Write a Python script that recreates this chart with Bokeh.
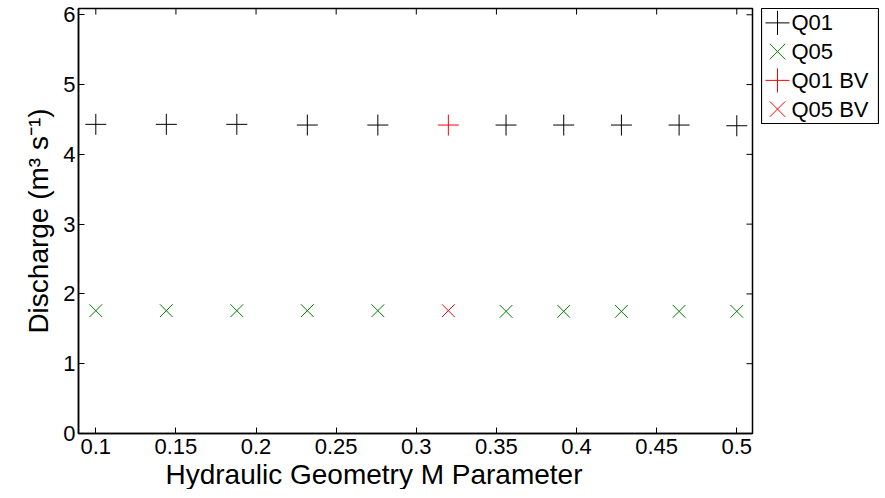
import math
from bokeh.plotting import figure
from bokeh.layouts import row
from bokeh.models import Range1d, FactorRange, FixedTicker, ColumnDataSource, Title
from bokeh.core.properties import value
from bokeh.embed import file_html
from bokeh.resources import INLINE

# Data
m_param = [0.1, 0.144, 0.188, 0.232, 0.276, 0.356, 0.392, 0.428, 0.464, 0.5]
q01 = [4.43, 4.43, 4.43, 4.42, 4.42, 4.42, 4.42, 4.42, 4.42, 4.41]
q05 = [1.76, 1.76, 1.76, 1.76, 1.76, 1.75, 1.75, 1.75, 1.75, 1.75]
m_bv = [0.32]
q01_bv = [4.42]
q05_bv = [1.76]
x_ticks = [0.1, 0.15, 0.2, 0.25, 0.3, 0.35, 0.4, 0.45, 0.5]
x_tick_labels = ["0.1", "0.15", "0.2", "0.25", "0.3", "0.35", "0.4", "0.45", "0.5"]
y_ticks = [0, 1, 2, 3, 4, 5, 6]
series_labels = ["Q01", "Q05", "Q01 BV", "Q05 BV"]

FONT = "Liberation Sans"

p = figure(frame_width=674, frame_height=425, output_backend="svg", toolbar_location=None,
           x_range=Range1d(0.0892, 0.5098), y_range=Range1d(0, 6.09),
           min_border_left=78, min_border_right=9, min_border_top=8, min_border_bottom=10)
p.grid.visible = False
p.outline_line_color = "black"
p.outline_line_width = 1.5
p.background_fill_color = "white"
p.border_fill_color = "white"

src = ColumnDataSource(dict(m=m_param, q01=q01, q05=q05))
src_bv = ColumnDataSource(dict(m=m_bv, q01=q01_bv, q05=q05_bv))

styles = [
    dict(y="q01", source=src, marker="cross", size=21, color="black"),
    dict(y="q05", source=src, marker="x", size=18, color="#008000"),
    dict(y="q01", source=src_bv, marker="cross", size=21, color="red"),
    dict(y="q05", source=src_bv, marker="x", size=18, color="red"),
]

for st in styles:
    p.scatter("m", st["y"], source=st["source"], marker=st["marker"], size=st["size"],
              line_color=st["color"], line_width=1)

xa = p.xaxis[0]
xa.ticker = FixedTicker(ticks=x_ticks)
xa.major_label_overrides = {t: l for t, l in zip(x_ticks, x_tick_labels)}
ya = p.yaxis[0]
ya.ticker = FixedTicker(ticks=y_ticks)
ya.axis_label = "Discharge (m³ s⁻¹)"

for ax in (xa, ya):
    ax.major_tick_in = 6
    ax.major_tick_out = 0
    ax.minor_tick_in = 0
    ax.minor_tick_out = 0
    ax.axis_line_width = 1.5
    ax.major_label_text_font = FONT
    ax.major_label_text_font_size = "22px"
    ax.major_label_text_color = "black"
    ax.axis_label_text_font = FONT
    ax.axis_label_text_font_size = "28px"
    ax.axis_label_text_font_style = "normal"
    ax.axis_label_text_color = "black"
xa.major_label_standoff = 5
ya.major_label_standoff = 3
ya.axis_label_standoff = 6

xlabel = Title(text="Hydraulic Geometry M Parameter", align="left", offset=87,
               text_font=FONT, text_font_size="28px", text_font_style="normal",
               text_color="black", standoff=0)
p.add_layout(xlabel, "below")

# Mirror ticks on the top and right edges of the box (half of each dash is clipped by the frame)
p.scatter(x=x_ticks, y=p.y_range.end, marker="dash", angle=math.pi / 2, size=12,
          line_color="black", line_width=1)
p.scatter(x=p.x_range.end, y=y_ticks, marker="dash", size=12,
          line_color="black", line_width=1)

# Legend box: a small companion figure, one category row per series
pl = figure(width=118, height=482, output_backend="svg", toolbar_location=None,
            x_range=Range1d(0, 117), y_range=FactorRange(factors=list(reversed(series_labels))),
            min_border_left=0, min_border_right=1, min_border_top=8, min_border_bottom=359)
pl.axis.visible = False
pl.grid.visible = False
pl.outline_line_color = "black"
pl.outline_line_width = 1.2
pl.background_fill_color = "white"
pl.border_fill_color = "white"

legend_marker_size = {"cross": 24, "x": 22}
for st, lab in zip(styles, series_labels):
    pl.scatter(x=16, y=[lab], marker=st["marker"], size=legend_marker_size[st["marker"]],
               line_color=st["color"], line_width=1)
pl.text(x=30, y=series_labels, text=series_labels, text_font=value(FONT),
        text_font_size="22px", text_color="black", text_baseline="middle", text_align="left")

layout = row(p, pl, spacing=0)
open("out.html", "w").write(file_html(layout, INLINE))
